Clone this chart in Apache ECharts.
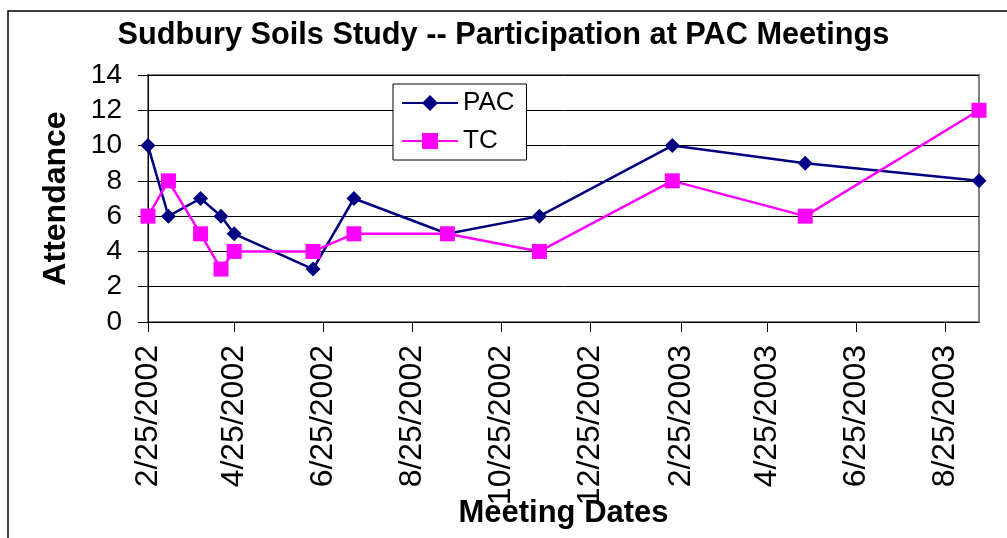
<!DOCTYPE html>
<html>
<head>
    <meta charset="utf-8">
    <title>Sudbury Soils Study</title>
    <style>
        html, body { margin: 0; padding: 0; background: #fff; }
    </style>
</head>
<body>
    <div id="main" style="width: 1007px;height:538px;"></div>

    <script src="https://cdn.jsdelivr.net/npm/echarts@6.0.0/dist/echarts.min.js"></script>
    <script type="text/javascript">
        // meeting dates (M/D/YYYY on the axis)
        var meetingDates = ['2002-02-25', '2002-03-11', '2002-04-02', '2002-04-16', '2002-04-25', '2002-06-18',
                            '2002-07-16', '2002-09-18', '2002-11-20', '2003-02-19', '2003-05-21', '2003-09-17'];
        var pac = [10, 6, 7, 6, 5, 3, 7, 5, 6, 10, 9, 8];
        var tc  = [6, 8, 5, 3, 4, 4, 5, 5, 4, 8, 6, 12];
        // x tick labels every two months
        var tickDates = ['2002-02-25', '2002-04-25', '2002-06-25', '2002-08-25', '2002-10-25', '2002-12-25',
                         '2003-02-25', '2003-04-25', '2003-06-25', '2003-08-25'];

        function toTime(s) {
            var p = s.split('-');
            return new Date(+p[0], +p[1] - 1, +p[2]).getTime();
        }
        function fmt(v) {
            var d = new Date(v);
            return (d.getMonth() + 1) + '/' + d.getDate() + '/' + d.getFullYear();
        }

        var times = meetingDates.map(toTime);
        var ticks = tickDates.map(toTime);
        var pacData = times.map(function (t, i) { return [t, pac[i]]; });
        var tcData = times.map(function (t, i) { return [t, tc[i]]; });

        var myChart = echarts.init(document.getElementById('main'));
        var option = {
            backgroundColor: '#fff',
            textStyle: { fontFamily: 'Liberation Sans, Arial, sans-serif' },
            animation: false,
            graphic: [{
                type: 'rect',
                shape: { x: 8, y: 11, width: 1100, height: 600 },
                style: { fill: 'none', stroke: '#000', lineWidth: 1.5 },
                silent: true
            }],
            title: {
                text: 'Sudbury Soils Study -- Participation at PAC Meetings',
                left: 'center',
                top: 20,
                padding: 0,
                textStyle: { fontSize: 30.7, fontWeight: 'bold', color: '#000' }
            },
            legend: {
                data: ['PAC', 'TC'],
                orient: 'vertical',
                left: 393,
                top: 84,
                padding: [6, 12, 6, 8],
                itemWidth: 56,
                itemHeight: 20,
                itemGap: 12,
                borderColor: '#000',
                borderWidth: 1,
                backgroundColor: '#fff',
                borderRadius: 0,
                textStyle: { fontSize: 26, color: '#000' }
            },
            grid: {
                left: 148,
                right: 28,
                top: 75,
                bottom: 216,
                show: true,
                borderColor: '#808080',
                borderWidth: 2,
                outerBoundsMode: 'none'
            },
            xAxis: {
                type: 'value',
                min: times[0],
                max: times[times.length - 1],
                name: 'Meeting Dates',
                nameLocation: 'middle',
                nameGap: 176,
                nameMoveOverlap: false,
                nameTextStyle: { fontSize: 31, fontWeight: 'bold', color: '#000' },
                axisLine: { lineStyle: { color: '#000', width: 1 } },
                axisTick: { show: true, length: 10, customValues: ticks, lineStyle: { color: '#000' } },
                axisLabel: {
                    customValues: ticks,
                    rotate: 90,
                    margin: 23,
                    fontSize: 32,
                    color: '#000',
                    formatter: fmt
                },
                splitLine: { show: false }
            },
            yAxis: {
                type: 'value',
                min: 0,
                max: 14,
                interval: 2,
                name: 'Attendance',
                nameLocation: 'middle',
                nameGap: 76,
                nameMoveOverlap: false,
                nameTextStyle: { fontSize: 32, fontWeight: 'bold', color: '#000' },
                axisLine: { show: true, lineStyle: { color: '#000', width: 1 } },
                axisTick: { show: true, length: 10, lineStyle: { color: '#000' } },
                axisLabel: { margin: 26, fontSize: 28, color: '#000' },
                splitLine: { lineStyle: { color: '#000', width: 1 } }
            },
            series: [
                {
                    name: 'PAC',
                    type: 'line',
                    data: pacData,
                    symbol: 'diamond',
                    symbolSize: 15,
                    color: '#000080',
                    lineStyle: { width: 2.5, color: '#000080' },
                    itemStyle: { color: '#000080' }
                },
                {
                    name: 'TC',
                    type: 'line',
                    data: tcData,
                    symbol: 'rect',
                    symbolSize: 15,
                    color: '#ff00ff',
                    lineStyle: { width: 2.5, color: '#ff00ff' },
                    itemStyle: { color: '#ff00ff' }
                }
            ]
        };
        myChart.setOption(option);
    </script>
</body>
</html>
